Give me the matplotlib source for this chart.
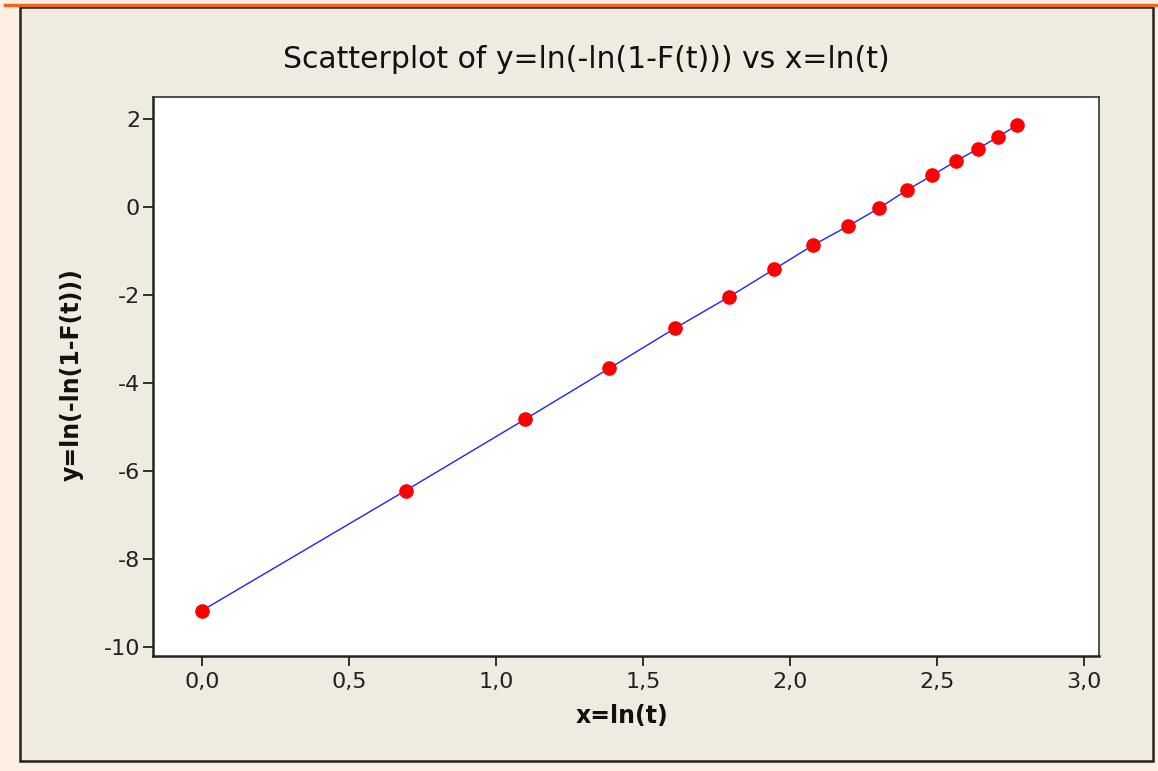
import matplotlib
matplotlib.use("Agg")
import matplotlib.pyplot as plt
from matplotlib.patches import Rectangle
from matplotlib.lines import Line2D
from matplotlib.ticker import FuncFormatter

# x = ln(t), y = ln(-ln(1-F(t)))
x_vals = [0.0, 0.693, 1.099, 1.386, 1.609, 1.792, 1.946, 2.079,
          2.197, 2.303, 2.398, 2.485, 2.565, 2.639, 2.708, 2.773]
y_vals = [-9.18, -6.45, -4.83, -3.67, -2.76, -2.05, -1.42, -0.87,
          -0.44, -0.03, 0.38, 0.72, 1.04, 1.32, 1.59, 1.86]
x_ticks = [0.0, 0.5, 1.0, 1.5, 2.0, 2.5, 3.0]
y_ticks = [-10, -8, -6, -4, -2, 0, 2]

W, H = 1158, 771
fig = plt.figure(figsize=(W / 100, H / 100), dpi=100)
fig.patch.set_facecolor("#fdf0e2")

# beige panel behind the chart
panel = Rectangle((20 / W, 1 - 761 / H), (1153 - 20) / W, (761 - 7) / H,
                  transform=fig.transFigure, facecolor="#efebe1",
                  edgecolor="#222222", linewidth=1.8, zorder=-5)
fig.patches.append(panel)
# orange strip on top
fig.add_artist(Line2D([5 / W, 1], [1 - 4.5 / H, 1 - 4.5 / H],
                      transform=fig.transFigure, color="#f0661e", linewidth=2.5))

ax = fig.add_axes([153 / W, 1 - 656 / H, (1099 - 153) / W, (656 - 97) / H])
ax.set_facecolor("white")

ax.plot(x_vals, y_vals, color="#2020ff", linewidth=1.0, zorder=2)
ax.plot(x_vals, y_vals, linestyle="none", marker="o", markersize=9.5,
        color="#ff0000", markeredgecolor="#ff0000", zorder=3)

ax.set_xlim(-0.166, 3.052)
ax.set_ylim(-10.21, 2.5)
ax.set_xticks(x_ticks)
ax.set_yticks(y_ticks)
ax.xaxis.set_major_formatter(FuncFormatter(lambda v, p: f"{v:.1f}".replace(".", ",")))
ax.yaxis.set_major_formatter(FuncFormatter(lambda v, p: f"{v:g}"))
ax.tick_params(axis="both", direction="out", length=7.2, width=1.3,
               labelsize=16, colors="#222222")
ax.tick_params(axis="y", pad=2)
ax.tick_params(axis="x", pad=4)
ax.tick_params(top=False, right=False)
for side in ["left", "bottom"]:
    ax.spines[side].set_linewidth(1.8)
    ax.spines[side].set_color("#222222")
for side in ["top", "right"]:
    ax.spines[side].set_linewidth(1.2)
    ax.spines[side].set_color("#333333")

fig.text(586 / W, 1 - 60 / H, "Scatterplot of y=ln(-ln(1-F(t))) vs x=ln(t)",
         fontsize=21.5, color="#111111", ha="center", va="center")
fig.text(622 / W, 1 - 716 / H, "x=ln(t)", fontsize=17, fontweight="bold",
         color="#111111", ha="center", va="center")
fig.text(72 / W, 1 - 375 / H, "y=ln(-ln(1-F(t)))", fontsize=17, fontweight="bold",
         color="#111111", ha="center", va="center", rotation=90)

fig.savefig("out.png", dpi=100, facecolor=fig.get_facecolor())
